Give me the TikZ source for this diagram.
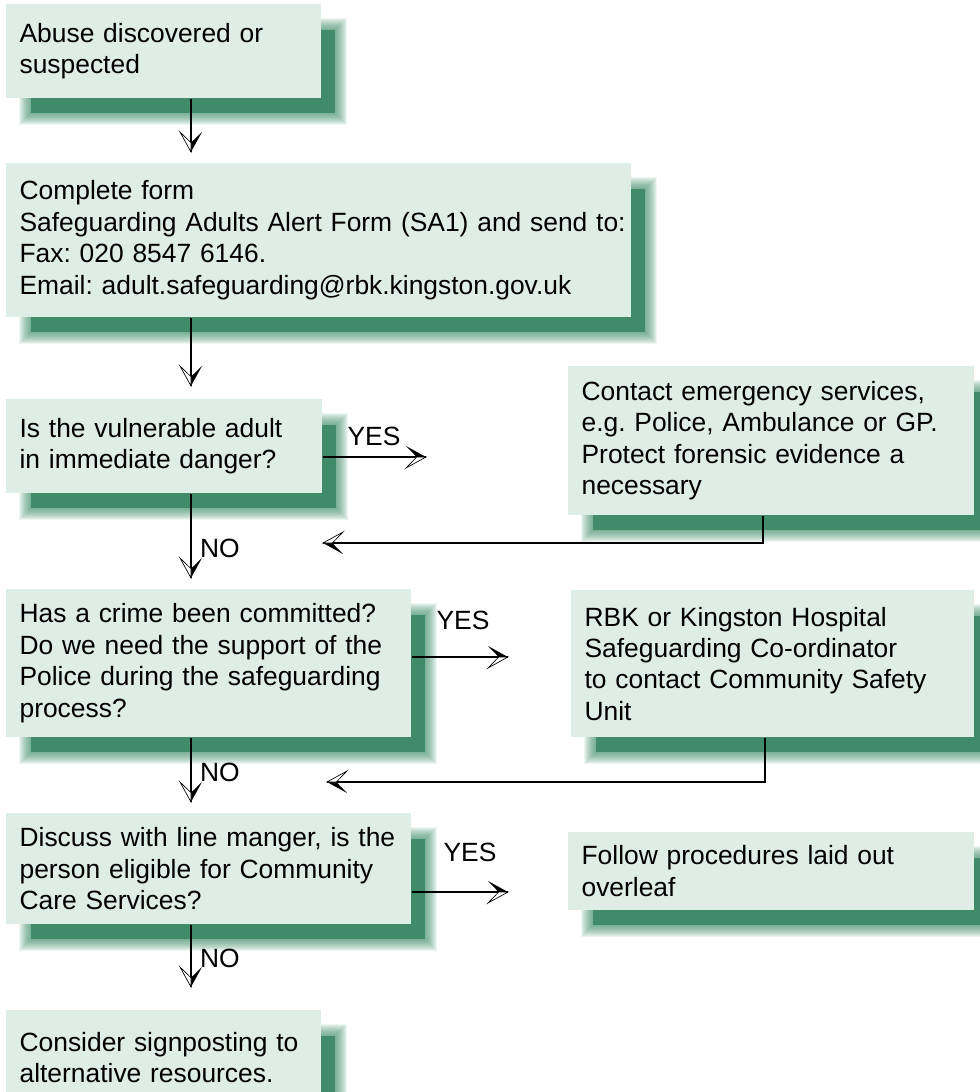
\documentclass[tikz,border=0pt]{standalone}
\usepackage{fontspec}
\setmainfont{Liberation Sans}
\usepackage{tikz}
\usetikzlibrary{calc,decorations.markings,backgrounds}
\definecolor{mint}{RGB}{ 222, 237, 230 }
\definecolor{pine}{RGB}{ 64, 140, 106 }
\newcommand{\boxfont}{\fontsize{19.8pt}{23.6pt}\selectfont\frenchspacing}
% split arrow head, black on the left of travel, open on the right
\newcommand{\halfhead}{%
  \fill[black] (0pt,0pt) -- (-15pt,8.25pt) -- (-7pt,0pt) -- cycle;
  \filldraw[fill=white,draw=black,line width=0.5pt] (0pt,0pt) -- (-15pt,-8.25pt) -- (-7pt,0pt) -- cycle;}
% soft green shadow behind a box
\newcommand{\softshadow}[1]{%
  \fill[pine] ($(#1.north west)+(25,26)$) rectangle ($(#1.south east)+(13,14)$);
  \foreach \e in {-6,-5,...,6}
    \fill[pine,fill opacity=0.09] ($(#1.north west)+({19-\e},{20-\e})$) rectangle ($(#1.south east)+({19+\e},{20+\e})$);}

\begin{document}
\begin{tikzpicture}[x=0.75pt,y=-0.75pt]
\tikzstyle{stepbox}=[fill=mint,anchor=north west,inner xsep=10pt,inner ysep=0pt,align=left,font=\boxfont]
\tikzstyle{tag}=[font=\boxfont,inner sep=0pt]
\tikzstyle{flow}=[line width=1.5pt,postaction={decorate,decoration={markings,mark=at position 1 with {\halfhead}}}]

\useasboundingbox (0,0) rectangle (979,1092);
\coordinate (spine) at (191,0);

% left column
\node(abuse)[stepbox,minimum width=236.25pt,minimum height=70.5pt,text width=216.25pt] at (6,4)
    {Abuse discovered or\\suspected};
\node(form)[stepbox,minimum width=468.75pt,minimum height=115.5pt,text width=448.75pt] at (6,163)
    {Complete form\\
     \mbox{Safeguarding Adults Alert Form (SA1) and send to:}\\
     Fax: 020 8547 6146.\\
     Email: adult.safeguarding@rbk.kingston.gov.uk};
\node(danger)[stepbox,minimum width=237pt,minimum height=70.5pt,text width=217pt] at (6,399)
    {Is the vulnerable adult\\in immediate danger?};
\node(crime)[stepbox,minimum width=303.75pt,minimum height=111pt,text width=283.75pt] at (6,589)
    {Has a crime been committed?\\
     Do we need the support of the\\
     Police during the safeguarding\\
     process?};
\node(manager)[stepbox,minimum width=303.75pt,minimum height=83.25pt,text width=283.75pt] at (6,813)
    {Discuss with line manger, is the\\
     person eligible for Community\\
     Care Services?};
\node(signpost)[stepbox,minimum width=236.25pt,minimum height=71.25pt,text width=216.25pt] at (6,1010)
    {Consider signposting to\\alternative resources.};

% right column
\node(emergency)[stepbox,minimum width=304.5pt,minimum height=111.75pt,text width=284.5pt] at (568,366)
    {Contact emergency services,\\
     e.g. Police, Ambulance or GP.\\
     Protect forensic evidence a\\
     necessary};
\node(police)[stepbox,minimum width=302.25pt,minimum height=110.25pt,text width=282.25pt] at (571,590)
    {RBK or Kingston Hospital\\
     Safeguarding Co-ordinator\\
     to contact Community Safety\\
     Unit};
\node(overleaf)[stepbox,minimum width=304.5pt,minimum height=58.5pt,text width=284.5pt] at (568,832)
    {Follow procedures laid out\\overleaf};

\begin{pgfonlayer}{background}
\foreach \n in {abuse,form,danger,crime,manager,signpost,emergency,police,overleaf}
    {\softshadow{\n}}
\end{pgfonlayer}

% main line
\draw[flow] (abuse.south -| spine) -- ($(form.north -| spine)+(0,-11)$);
\draw[flow] (form.south -| spine) -- ($(danger.north -| spine)+(0,-13)$);
\draw[flow] (danger.south -| spine) -- ($(crime.north -| spine)+(0,-11)$)
    node[tag,pos=0.65,anchor=west,xshift=6pt]{NO};
\draw[flow] (crime.south -| spine) -- ($(manager.north -| spine)+(0,-11)$)
    node[tag,pos=0.54,anchor=west,xshift=6pt]{NO};
\draw[flow] (manager.south -| spine) -- ($(signpost.north -| spine)+(0,-23)$)
    node[tag,pos=0.55,anchor=west,xshift=6pt]{NO};

% yes branches
\coordinate (yesend1) at (426,457);
\coordinate (yesend2) at (508,657);
\coordinate (yesend3) at (508,892);
\draw[flow] (danger.east |- yesend1) -- (yesend1);
\draw[flow] (crime.east |- yesend2) -- (yesend2);
\draw[flow] (manager.east |- yesend3) -- (yesend3);
\node(yes1)[tag] at (374,436) {YES};
\node(yes2)[tag] at (463,620) {YES};
\node(yes3)[tag] at (470,852) {YES};

% back to the main line
\coordinate (ret1) at (323,543);
\coordinate (ret2) at (327,782);
\draw[flow] ($(emergency.south)+(-8,0)$) |- (ret1);
\draw[flow] ($(police.south)+(-7.5,0)$) |- (ret2);

\end{tikzpicture}
\end{document}
